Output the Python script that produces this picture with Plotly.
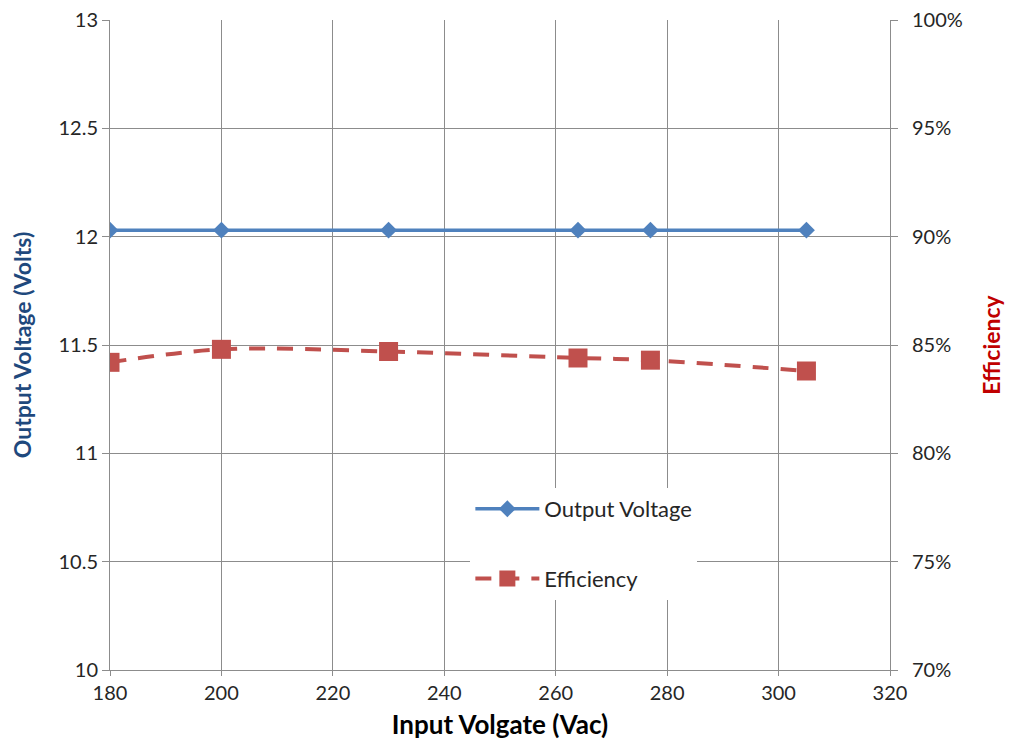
import plotly.graph_objects as go

input_vac = [180, 200, 230, 264, 277, 305]
output_voltage = [12.03, 12.03, 12.03, 12.03, 12.03, 12.03]
efficiency = [0.842, 0.848, 0.847, 0.844, 0.843, 0.838]

x_ticks = [180, 200, 220, 240, 260, 280, 300, 320]
y_ticks = [10, 10.5, 11, 11.5, 12, 12.5, 13]
y_tick_text = ["10", "10.5", "11", "11.5", "12", "12.5", "13"]
eff_ticks = [0.70, 0.75, 0.80, 0.85, 0.90, 0.95, 1.00]

FONT = "Lato, 'Open Sans', sans-serif"
GRID = "#8c8c8c"

fig = go.Figure()
fig.add_trace(go.Scatter(
    x=input_vac, y=output_voltage, name="Output Voltage",
    mode="lines+markers", legendgroup="a",
    line=dict(color="#4F81BD", width=3.5),
    marker=dict(symbol="diamond", size=13, color="#4F81BD"),
))
fig.add_trace(go.Scatter(
    x=input_vac, y=efficiency, name="Efficiency", yaxis="y2",
    mode="lines+markers", legendgroup="b",
    line=dict(color="#C0504D", width=4, dash="16px,12px", shape="spline"),
    marker=dict(symbol="square", size=19, color="#C0504D"),
))

fig.update_layout(
    width=1013, height=745,
    margin=dict(l=102, r=131, t=12, b=83, autoexpand=False),
    paper_bgcolor="white", plot_bgcolor="white",
    font=dict(family=FONT, size=20, color="#262626"),
    xaxis=dict(
        range=[180, 320], tickvals=x_ticks, showgrid=True, gridcolor=GRID, gridwidth=1,
        showline=True, linecolor=GRID, linewidth=1, ticks="outside", ticklen=5, tickcolor=GRID,
        zeroline=False, ticklabeloverflow="allow", automargin=False,
        title=dict(text="<b>Input Volgate (Vac)</b>", font=dict(size=26, color="#000000"), standoff=12),
    ),
    yaxis=dict(
        range=[10, 13], tickvals=y_ticks, ticktext=y_tick_text, showgrid=True, gridcolor=GRID,
        showline=True, linecolor=GRID, linewidth=1, ticks="outside", ticklen=7, tickcolor=GRID,
        zeroline=False, ticklabeloverflow="allow", automargin=False,
        title=dict(text="<b>Output Voltage (Volts)</b>", font=dict(size=23, color="#1F497D"), standoff=22),
    ),
    yaxis2=dict(
        range=[0.70, 1.00], tickvals=eff_ticks, tickformat=".0%", overlaying="y", side="right",
        showgrid=False, showline=True, linecolor=GRID, linewidth=1, ticks="outside", ticklen=7,
        tickcolor=GRID, zeroline=False, ticklabeloverflow="allow", ticklabelstandoff=10,
        automargin=False, tickfont=dict(size=20),
        title=dict(text="<b>Efficiency</b>", font=dict(size=23, color="#C00000"), standoff=22),
    ),
    legend=dict(
        x=0.462, y=0.28, xanchor="left", yanchor="top",
        bgcolor="white", borderwidth=0, tracegroupgap=38,
        font=dict(size=22, color="#262626"), itemwidth=64,
    ),
    showlegend=True,
)

fig.write_html("out.html")
